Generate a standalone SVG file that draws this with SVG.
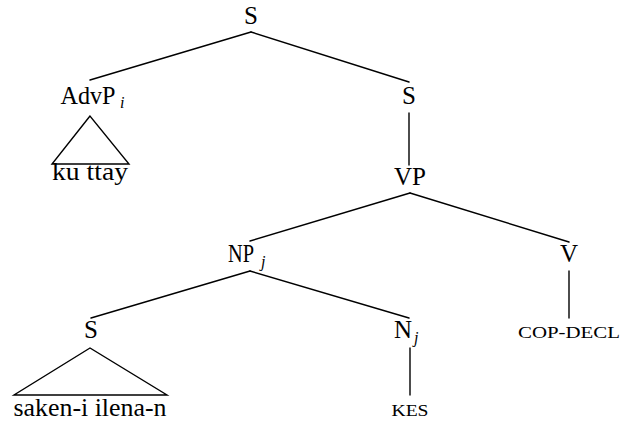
<svg xmlns="http://www.w3.org/2000/svg" width="620" height="424" viewBox="0 0 620 424">
<style>
text{font-family:'Liberation Serif','Times New Roman','DejaVu Serif',serif;fill:#000}
.l{font-size:25px;text-anchor:middle}
.sub{font-size:16px;font-style:italic}
.sc{font-size:16px;text-anchor:middle}
.e{stroke:#000;stroke-width:1.4;fill:none;stroke-linecap:round}
</style>
<rect width="620" height="424" fill="#fff"/>
<g id="connectors">
<line class="e" x1="251" y1="32" x2="90" y2="80"/>
<line class="e" x1="251" y1="32" x2="409" y2="82"/>
<polygon class="e" points="90,116 52,164 129,164"/>
<line class="e" x1="409" y1="113" x2="409" y2="165"/>
<line class="e" x1="410" y1="193" x2="250" y2="241"/>
<line class="e" x1="410" y1="193" x2="569" y2="242"/>
<line class="e" x1="250" y1="271" x2="91" y2="318"/>
<line class="e" x1="250" y1="271" x2="409" y2="318"/>
<line class="e" x1="569" y1="271" x2="569" y2="318"/>
<polygon class="e" points="90,348 14,395 167,395"/>
<line class="e" x1="410" y1="348" x2="410" y2="395"/>
</g>
<g id="S-root"><text class="l" x="251" y="24">S</text></g>
<g id="AdvP"><text class="l" x="88" y="104" textLength="55" lengthAdjust="spacingAndGlyphs">AdvP</text><text class="sub" x="120" y="108">i</text></g>
<g id="ku-ttay"><text class="l" x="90" y="180" textLength="76" lengthAdjust="spacingAndGlyphs">ku ttay</text></g>
<g id="S-right"><text class="l" x="409" y="104">S</text></g>
<g id="VP"><text class="l" x="410" y="185">VP</text></g>
<g id="NP"><text class="l" x="241" y="262" textLength="26" lengthAdjust="spacingAndGlyphs">NP</text><text class="sub" x="261" y="267">j</text></g>
<g id="V"><text class="l" x="569" y="262">V</text></g>
<g id="S-low"><text class="l" x="91" y="338">S</text></g>
<g id="N"><text class="l" x="403" y="338">N</text><text class="sub" x="414" y="343">j</text></g>
<g id="COP-DECL"><text class="sc" x="569" y="338" textLength="102" lengthAdjust="spacingAndGlyphs">COP-DECL</text></g>
<g id="saken"><text class="l" x="90" y="416" textLength="153" lengthAdjust="spacingAndGlyphs">saken-i ilena-n</text></g>
<g id="KES"><text class="sc" x="410" y="416" textLength="37" lengthAdjust="spacingAndGlyphs">KES</text></g>
</svg>
